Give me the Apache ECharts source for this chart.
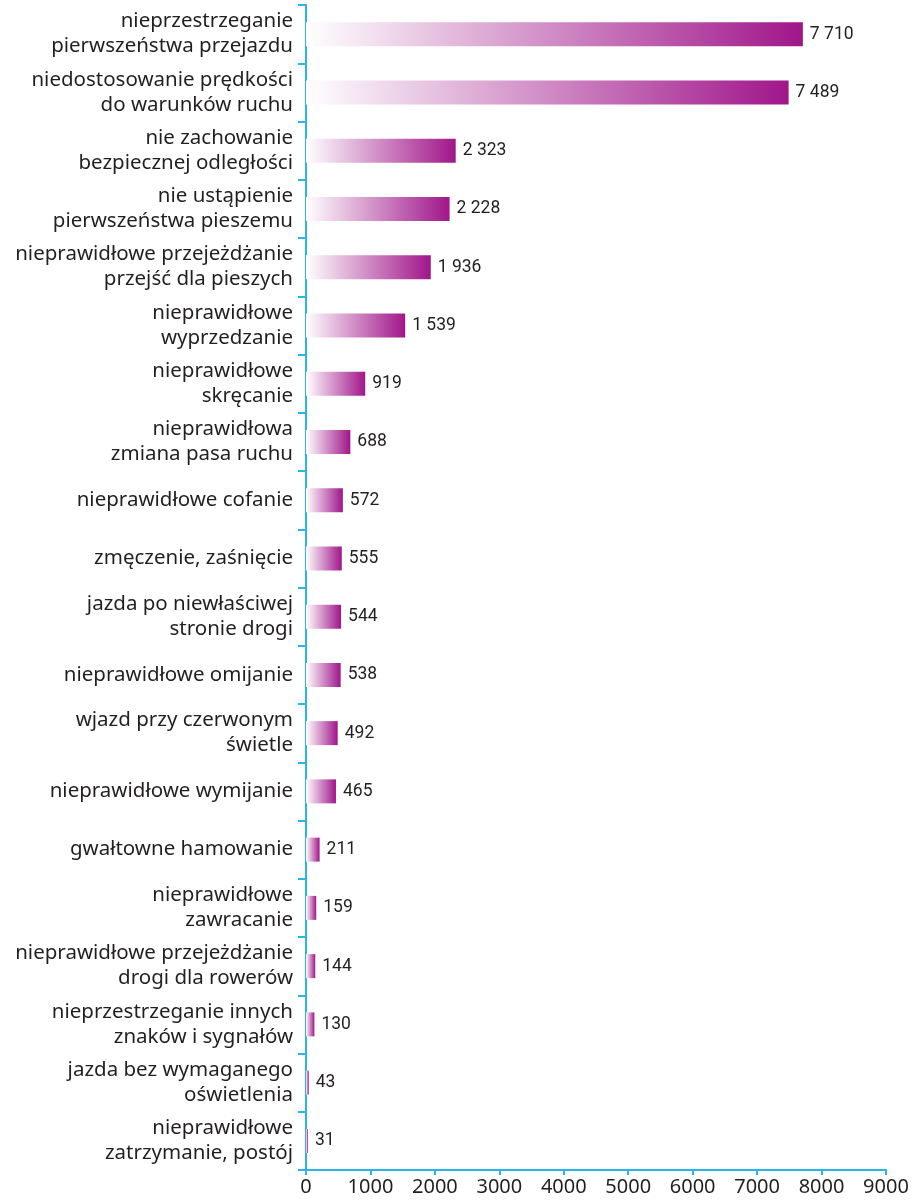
<!DOCTYPE html>
<html>
<head>
<meta charset="utf-8">
<script src="https://cdn.jsdelivr.net/npm/echarts@6/dist/echarts.min.js"></script>
<style>
html,body{margin:0;padding:0;background:#fff;}
#c{width:916px;height:1203px;}
</style>
</head>
<body>
<div id="c"></div>
<script>
const categories = [
  "nieprzestrzeganie\npierwszeństwa przejazdu",
  "niedostosowanie prędkości\ndo warunków ruchu",
  "nie zachowanie\nbezpiecznej odległości",
  "nie ustąpienie\npierwszeństwa pieszemu",
  "nieprawidłowe przejeżdżanie\nprzejść dla pieszych",
  "nieprawidłowe\nwyprzedzanie",
  "nieprawidłowe\nskręcanie",
  "nieprawidłowa\nzmiana pasa ruchu",
  "nieprawidłowe cofanie",
  "zmęczenie, zaśnięcie",
  "jazda po niewłaściwej\nstronie drogi",
  "nieprawidłowe omijanie",
  "wjazd przy czerwonym\nświetle",
  "nieprawidłowe wymijanie",
  "gwałtowne hamowanie",
  "nieprawidłowe\nzawracanie",
  "nieprawidłowe przejeżdżanie\ndrogi dla rowerów",
  "nieprzestrzeganie innych\nznaków i sygnałów",
  "jazda bez wymaganego\noświetlenia",
  "nieprawidłowe\nzatrzymanie, postój"
];
const values = [7710, 7489, 2323, 2228, 1936, 1539, 919, 688, 572, 555, 544, 538, 492, 465, 211, 159, 144, 130, 43, 31];
const xTicks = [0, 1000, 2000, 3000, 4000, 5000, 6000, 7000, 8000, 9000];

const axisColor = '#29b5ec';
const chart = echarts.init(document.getElementById('c'));
function fmt(v){ return String(v).replace(/\B(?=(\d{3})+(?!\d))/g, ' '); }
chart.setOption({
  animation: false,
  grid: { left: 306, right: 30, top: 5, bottom: 33, containLabel: false },
  xAxis: {
    type: 'value',
    min: xTicks[0], max: xTicks[xTicks.length-1], interval: 1000,
    axisLine: { show: true, lineStyle: { color: axisColor, width: 2 } },
    axisTick: { show: true, length: 5, lineStyle: { color: axisColor, width: 2 } },
    splitLine: { show: false },
    axisLabel: { color: '#231f20', fontSize: 20, fontFamily: 'Noto Sans', margin: 7, formatter: v => String(v) }
  },
  yAxis: {
    type: 'category',
    inverse: true,
    data: categories,
    axisLine: { show: true, lineStyle: { color: axisColor, width: 2 } },
    axisTick: { show: true, length: 8, lineStyle: { color: axisColor, width: 2 } },
    axisLabel: { color: '#231f20', fontSize: 20.5, fontFamily: 'Noto Sans', lineHeight: 25, margin: 13, align: 'right' }
  },
  series: [{
    type: 'bar',
    data: values,
    barWidth: 24,
    itemStyle: {
      color: new echarts.graphic.LinearGradient(0, 0, 1, 0, [
        { offset: 0, color: '#ffffff' },
        { offset: 1, color: '#a0168a' }
      ])
    },
    label: {
      show: true, position: 'right', distance: 7,
      color: '#231f20', fontSize: 17.5, fontFamily: 'Roboto',
      formatter: p => fmt(p.value)
    }
  }]
});
</script>
</body>
</html>
